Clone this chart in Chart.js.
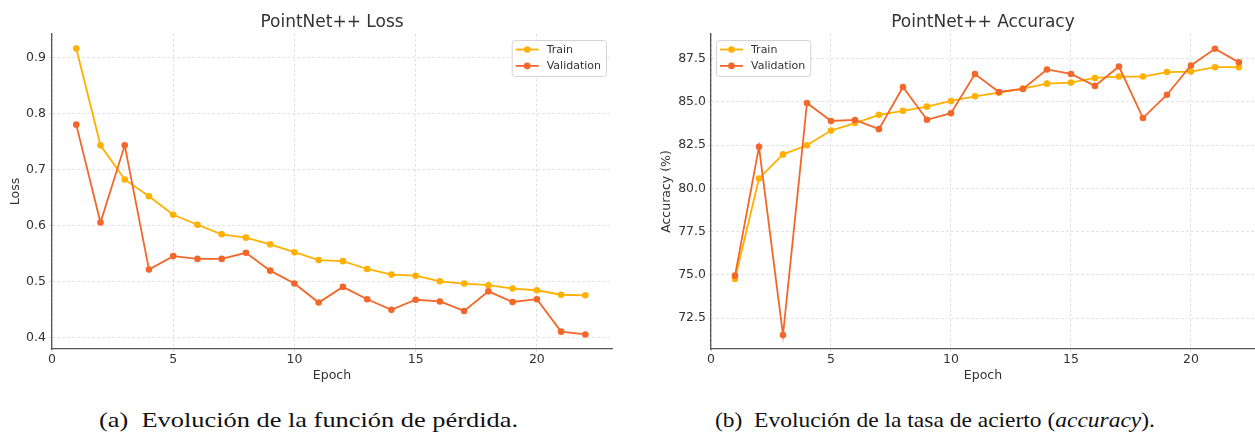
<!DOCTYPE html>
<html>
<head>
<meta charset="utf-8">
<script src="https://cdn.jsdelivr.net/npm/chart.js@4.4.1/dist/chart.umd.min.js"></script>
<style>
    body { margin: 0; background: #fff; }
    #figure { position: relative; width: 1255px; height: 433px; overflow: hidden; background: #fff; }
    canvas { position: absolute; top: 0; }
    .caption {
        position: absolute; top: 410px;
        font-family: "Liberation Serif", "Times New Roman", serif;
        font-size: 21px; line-height: 21px; color: #111;
        white-space: nowrap; transform-origin: left top;
    }
</style>
</head>
<body>
<div id="figure">
    <canvas id="lossChart" width="625" height="390" style="left:0"></canvas>
    <canvas id="accChart" width="630" height="390" style="left:625px"></canvas>
    <div class="caption" id="capA" style="left:99px">(a)&nbsp; Evolución de la función de pérdida.</div>
    <div class="caption" id="capB" style="left:715px">(b)&nbsp; Evolución de la tasa de acierto (<i>accuracy</i>).</div>
</div>
<script>
// values
const epochs = [1, 2, 3, 4, 5, 6, 7, 8, 9, 10, 11, 12, 13, 14, 15, 16, 17, 18, 19, 20, 21, 22];

const lossTrain = [0.916, 0.743, 0.682, 0.652, 0.619, 0.601, 0.584, 0.578, 0.566, 0.552, 0.538,
                   0.536, 0.522, 0.512, 0.510, 0.500, 0.496, 0.493, 0.487, 0.484, 0.476, 0.475];
const lossVal = [0.780, 0.605, 0.743, 0.521, 0.545, 0.540, 0.540, 0.551, 0.519, 0.496, 0.462,
                 0.490, 0.468, 0.449, 0.467, 0.464, 0.447, 0.482, 0.463, 0.468, 0.410, 0.405];

const accTrain = [74.77, 80.58, 81.97, 82.50, 83.35, 83.78, 84.26, 84.49, 84.73, 85.06, 85.33,
                  85.54, 85.77, 86.06, 86.12, 86.39, 86.47, 86.47, 86.73, 86.76, 87.01, 87.01];
const accVal = [74.96, 82.41, 71.53, 84.94, 83.90, 83.96, 83.43, 85.87, 83.97, 84.35, 86.62,
                85.58, 85.75, 86.88, 86.62, 85.93, 87.05, 84.07, 85.42, 87.11, 88.08, 87.29];

const epochTicks = [0, 5, 10, 15, 20];
const lossTicks = [0.4, 0.5, 0.6, 0.7, 0.8, 0.9];
const accTicks = [72.5, 75.0, 77.5, 80.0, 82.5, 85.0, 87.5];

const trainColor = '#ffb000';
const valColor = '#f3672b';

Chart.defaults.font.family = '"DejaVu Sans", sans-serif';
Chart.defaults.color = '#333';

// matplotlib style legend box inside the plot area
const boxLegend = {
    id: 'boxLegend',
    afterDatasetsDraw(chart, args, opts) {
        let ctx = chart.ctx;
        let area = chart.chartArea;
        let sets = chart.data.datasets;
        ctx.save();
        ctx.font = '11px "DejaVu Sans"';
        let textW = Math.max(...sets.map(d => ctx.measureText(d.label).width));
        let w = 35 + textW + 5;
        let rowH = 16.4;
        let h = 36;
        let x = opts.side === 'left' ? area.left + 5 : area.right - 6 - w;
        let y = area.top + 6;
        ctx.beginPath();
        ctx.roundRect(x + 0.5, y + 0.5, w, h, 3);
        ctx.fillStyle = 'rgba(255,255,255,0.85)';
        ctx.fill();
        ctx.strokeStyle = '#d4d4d4';
        ctx.lineWidth = 1;
        ctx.stroke();
        sets.forEach((d, i) => {
            let cy = y + 9.5 + i * rowH;
            ctx.strokeStyle = d.borderColor;
            ctx.lineWidth = 1.8;
            ctx.beginPath();
            ctx.moveTo(x + 4, cy);
            ctx.lineTo(x + 27, cy);
            ctx.stroke();
            ctx.fillStyle = d.borderColor;
            ctx.beginPath();
            ctx.arc(x + 15.5, cy, 3.3, 0, Math.PI * 2);
            ctx.fill();
            ctx.fillStyle = '#333';
            ctx.textBaseline = 'middle';
            ctx.fillText(d.label, x + 35, cy + 0.5);
        });
        ctx.restore();
    }
};

function series(values) {
    return epochs.map((e, i) => ({ x: e, y: values[i] }));
}

function makeChart(id, title, yTitle, train, val, o) {
    let ctx = document.getElementById(id).getContext('2d');
    let grid = { color: '#d6d6d6', lineWidth: 0.8, tickLength: 3 };
    return new Chart(ctx, {
        type: 'line',
        data: {
            datasets: [
                { label: 'Train', data: series(train), borderColor: trainColor, backgroundColor: trainColor,
                  borderWidth: 1.8, pointRadius: 3.3, pointBorderWidth: 0, order: 2 },
                { label: 'Validation', data: series(val), borderColor: valColor, backgroundColor: valColor,
                  borderWidth: 1.8, pointRadius: 3.3, pointBorderWidth: 0, order: 1 }
            ]
        },
        options: {
            responsive: false,
            animation: false,
            layout: { autoPadding: false, padding: { left: 0, right: o.padRight, top: 0, bottom: 0 } },
            plugins: {
                legend: { display: false },
                tooltip: { enabled: false },
                title: {
                    display: true, text: title, fullSize: false, color: '#333',
                    font: { size: 17, weight: 'normal', lineHeight: 1.2 },
                    padding: { top: 12.3, bottom: 1.3 }
                },
                boxLegend: { side: o.legendSide }
            },
            scales: {
                x: {
                    type: 'linear', min: 0, max: o.xMax,
                    afterBuildTicks: s => { s.ticks = epochTicks.map(v => ({ value: v })); },
                    afterFit: s => { s.height = 41; },
                    ticks: { font: { size: 12.5 }, padding: 0, maxRotation: 0 },
                    grid: grid,
                    border: { display: true, color: '#555', width: 1.3, dash: [2.5, 2.5] },
                    title: { display: true, text: 'Epoch', font: { size: 12.5, lineHeight: 1.2 },
                             padding: { top: 0, bottom: 7 } }
                },
                y: {
                    type: 'linear', min: o.yMin, max: o.yMax,
                    afterBuildTicks: s => { s.ticks = o.yTicks.map(v => ({ value: v })); },
                    afterFit: s => { s.width = o.yWidth; },
                    ticks: { font: { size: 12.5 }, padding: o.yTickPad, callback: v => v.toFixed(1) },
                    grid: grid,
                    border: { display: true, color: '#555', width: 1.3, dash: [2.5, 2.5] },
                    title: { display: true, text: yTitle, font: { size: 12.5, lineHeight: 1.2 },
                             padding: { top: o.yTitlePad, bottom: 0 } }
                }
            }
        },
        plugins: [boxLegend]
    });
}

makeChart('lossChart', 'PointNet++ Loss', 'Loss', lossTrain, lossVal, {
    xMax: 23.1, yMin: 0.379, yMax: 0.942, yTicks: lossTicks,
    yWidth: 52, yTickPad: 3, yTitlePad: 8.5, padRight: 13, legendSide: 'right'
});

makeChart('accChart', 'PointNet++ Accuracy', 'Accuracy (%)', accTrain, accVal, {
    xMax: 22.67, yMin: 70.72, yMax: 88.93, yTicks: accTicks,
    yWidth: 86, yTickPad: 2, yTitlePad: 34.2, padRight: 0, legendSide: 'left'
});

// the captions in the reference are stretched horizontally
function fitCaption(id, width) {
    let el = document.getElementById(id);
    let natural = el.getBoundingClientRect().width;
    el.style.transform = 'scaleX(' + (width / natural) + ')';
}
fitCaption('capA', 419);
fitCaption('capB', 440);
</script>
</body>
</html>
